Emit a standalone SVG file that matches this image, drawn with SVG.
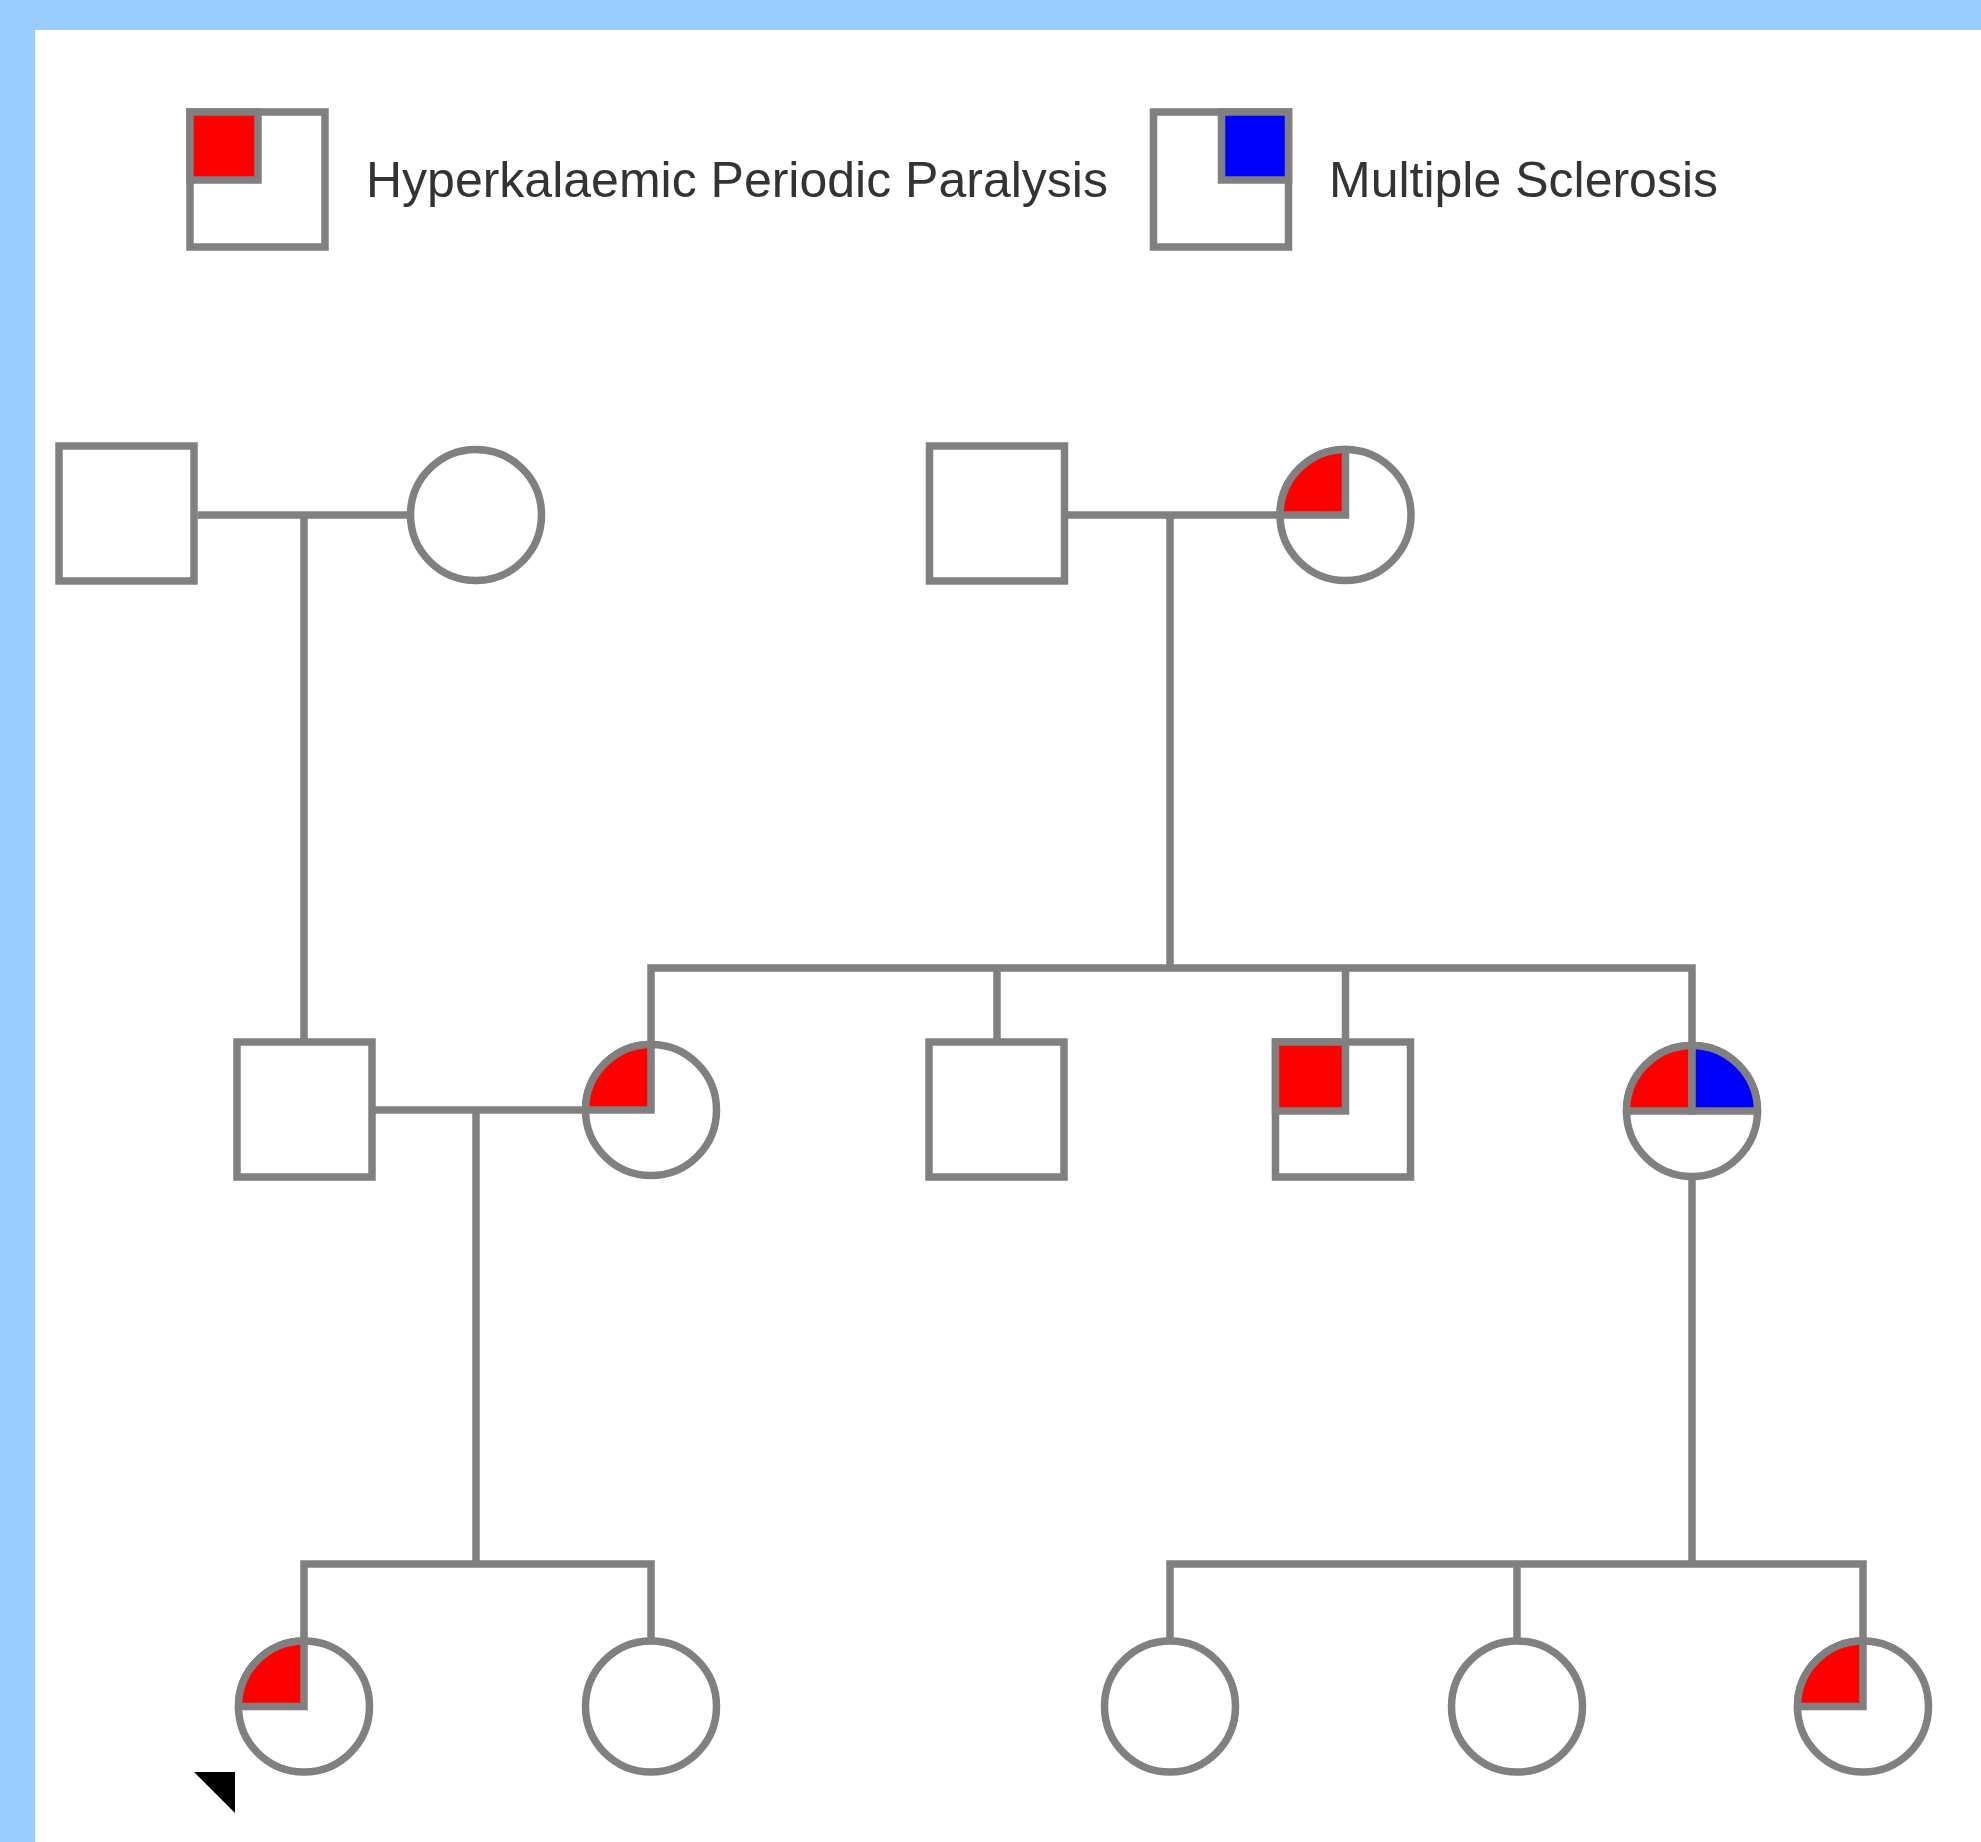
<svg xmlns="http://www.w3.org/2000/svg" width="1981" height="1842" viewBox="0 0 1981 1842">
<style>
.ln{fill:none;stroke:#808080;stroke-width:7.5;stroke-linecap:butt;stroke-linejoin:miter}
.sym{fill:#ffffff;stroke:#808080;stroke-width:7.5}
.hpp{fill:#ff0000;stroke:#808080;stroke-width:7.5}
.ms{fill:#0000ff;stroke:#808080;stroke-width:7.5}
.lbl{font-family:"Liberation Sans",Arial,sans-serif;font-size:50px;fill:#333333}
</style>
<rect x="0" y="0" width="1981" height="1842" fill="#ffffff"/>
<rect x="0" y="0" width="1981" height="30" fill="#99ccff"/>
<rect x="0" y="0" width="35" height="1842" fill="#99ccff"/>

<g id="legend">
  <g id="legend-hpp">
    <rect class="sym" x="190" y="112" width="135" height="135"/>
    <rect class="hpp" x="190" y="112" width="68" height="68"/>
    <text class="lbl" x="366" y="197">Hyperkalaemic Periodic Paralysis</text>
  </g>
  <g id="legend-ms">
    <rect class="sym" x="1153.5" y="112" width="135" height="135"/>
    <rect class="ms" x="1221.5" y="112" width="67" height="68"/>
    <text class="lbl" x="1329" y="197">Multiple Sclerosis</text>
  </g>
</g>

<g id="connectors">
  <path class="ln" d="M197.75,515 H410.5"/>
  <path class="ln" d="M304,515 V1042"/>
  <path class="ln" d="M1064.5,515 H1280"/>
  <path class="ln" d="M1170,515 V968"/>
  <path class="ln" d="M651,1044.5 V968 H1692 V1045.5"/>
  <path class="ln" d="M997,968 V1042"/>
  <path class="ln" d="M1345.5,968 V1042"/>
  <path class="ln" d="M372,1110 H585.5"/>
  <path class="ln" d="M476,1110 V1564"/>
  <path class="ln" d="M304,1641 V1564 H651 V1641"/>
  <path class="ln" d="M1692,1176.5 V1564"/>
  <path class="ln" d="M1170,1641 V1564 H1863 V1641"/>
  <path class="ln" d="M1517,1564 V1641"/>
</g>

<g id="gen1-father-left"><rect class="sym" x="59" y="446" width="135" height="135"/></g>
<g id="gen1-mother-left"><circle class="sym" cx="476" cy="515" r="65.5"/></g>
<g id="gen1-father-right"><rect class="sym" x="929.5" y="446" width="135" height="135"/></g>
<g id="gen1-mother-right">
  <circle class="sym" cx="1345.5" cy="515" r="65.5"/>
  <path class="hpp" d="M1345.5,515 H1280 A65.5,65.5 0 0 1 1345.5,449.5 Z"/>
</g>

<g id="gen2-husband"><rect class="sym" x="237" y="1042" width="135" height="135"/></g>
<g id="gen2-wife">
  <circle class="sym" cx="651" cy="1110" r="65.5"/>
  <path class="hpp" d="M651,1110 H585.5 A65.5,65.5 0 0 1 651,1044.5 Z"/>
</g>
<g id="gen2-son1"><rect class="sym" x="929" y="1042" width="135" height="135"/></g>
<g id="gen2-son2">
  <rect class="sym" x="1275.5" y="1042" width="135" height="135"/>
  <rect class="hpp" x="1275.5" y="1042" width="70" height="69"/>
</g>
<g id="gen2-daughter">
  <circle class="sym" cx="1692" cy="1111" r="65.5"/>
  <path class="hpp" d="M1692,1111 H1626.5 A65.5,65.5 0 0 1 1692,1045.5 Z"/>
  <path class="ms" d="M1692,1111 V1045.5 A65.5,65.5 0 0 1 1757.5,1111 Z"/>
</g>

<g id="gen3-proband">
  <circle class="sym" cx="304" cy="1706.5" r="65.5"/>
  <path class="hpp" d="M304,1706.5 H238.5 A65.5,65.5 0 0 1 304,1641 Z"/>
  <polygon points="194,1772 235,1772 235,1813" fill="#000000"/>
</g>
<g id="gen3-sister"><circle class="sym" cx="651" cy="1706.5" r="65.5"/></g>
<g id="gen3-cousin1"><circle class="sym" cx="1170" cy="1706.5" r="65.5"/></g>
<g id="gen3-cousin2"><circle class="sym" cx="1517" cy="1706.5" r="65.5"/></g>
<g id="gen3-cousin3">
  <circle class="sym" cx="1863" cy="1706.5" r="65.5"/>
  <path class="hpp" d="M1863,1706.5 H1797.5 A65.5,65.5 0 0 1 1863,1641 Z"/>
</g>
</svg>
